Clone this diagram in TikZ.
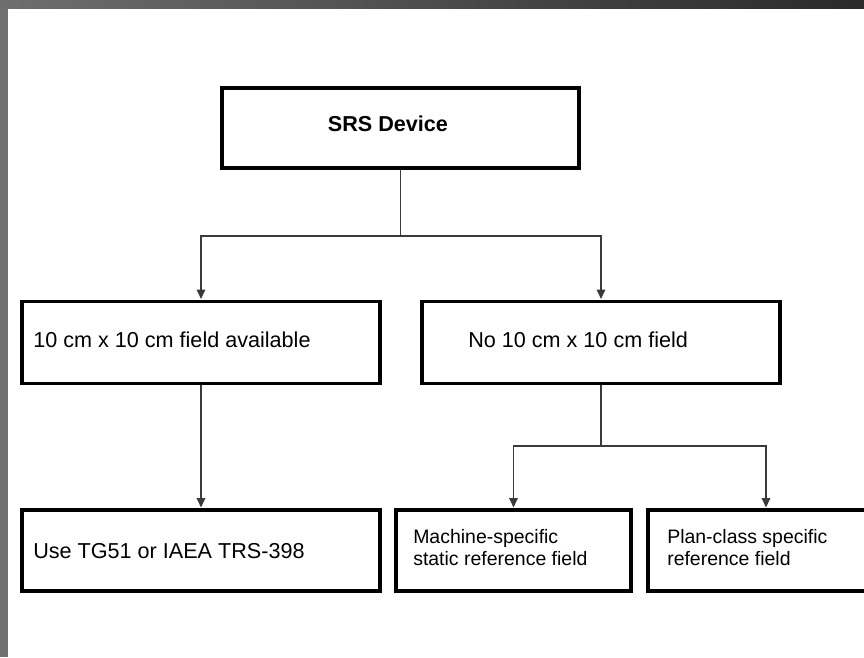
\documentclass[tikz,border=0pt]{standalone}
\usepackage{fontspec}
\setmainfont{Liberation Sans}
\usetikzlibrary{arrows.meta}
\definecolor{framegrayA}{HTML}{6E6E6E}
\definecolor{framegrayB}{HTML}{585858}
\definecolor{framegrayC}{HTML}{2A2A2A}
\definecolor{sidegray}{HTML}{707070}
\definecolor{linkgray}{HTML}{3A3A3A}
\tikzset{
  box/.style={draw=black, line width=2.3pt, rectangle, inner sep=0pt},
  mainlabel/.style={font=\fontsize{16.2}{19}\selectfont, inner sep=0pt},
  smalllabel/.style={font=\fontsize{14.6}{16.5}\selectfont, inner sep=0pt, align=left},
  link/.style={draw=linkgray, line width=0.8pt},
  arrowlink/.style={link, -{Triangle[width=6.5pt,length=7pt]}, shorten >=0.8pt},
}
\begin{document}
\begin{tikzpicture}[x=0.75pt,y=-0.75pt]
\useasboundingbox (0,0) rectangle (864,657);
\clip (0,0) rectangle (864,657);
\fill[white] (0,0) rectangle (864,657);
% window frame: grey side strip and shaded top strip
\fill[sidegray] (0,0) rectangle (8,657);
\shade[left color=framegrayA, middle color=framegrayB, right color=framegrayC] (0,0) rectangle (864,8);

% boxes
\node[box, minimum width=357*0.75pt, minimum height=80*0.75pt] (srs) at (400.5,128) {};
\node[box, minimum width=358*0.75pt, minimum height=82*0.75pt] (lbox) at (201,342.5) {};
\node[box, minimum width=358*0.75pt, minimum height=82*0.75pt] (rbox) at (601,342.5) {};
\node[box, minimum width=358*0.75pt, minimum height=81*0.75pt] (tg) at (201,550.5) {};
\node[box, minimum width=235*0.75pt, minimum height=81*0.75pt] (mach) at (513.5,550.5) {};
\node[box, minimum width=236*0.75pt, minimum height=81*0.75pt] (plan) at (766,550.5) {};

% labels
\node[mainlabel, font=\fontsize{16.2}{19}\selectfont\bfseries, anchor=base] (srst) at (388,131) {SRS Device};
\node[mainlabel, anchor=base west] (lboxt) at (33,347) {10 cm x 10 cm field available};
\node[mainlabel, anchor=base west] (rboxt) at (468,347) {No 10 cm x 10 cm field};
\node[mainlabel, anchor=base west] (tgt) at (33,558) {Use TG51 or IAEA TRS-398};
\node[smalllabel, anchor=base west] (macht) at (413,565) {Machine-specific\\static reference field};
\node[smalllabel, anchor=base west] (plant) at (667,565) {Plan-class specific\\reference field};

% connectors
\coordinate (split1) at (400.5,236);
\coordinate (split2) at (601,446);
\draw[link] (srs.south) -- (split1);
\draw[arrowlink] (split1) -| (lbox.north);
\draw[arrowlink] (split1) -| (rbox.north);
\draw[arrowlink] (lbox.south) -- (tg.north);
\draw[link] (rbox.south) -- (split2);
\draw[arrowlink] (split2) -| (mach.north);
\draw[arrowlink] (split2) -| (plan.north);
\end{tikzpicture}
\end{document}
